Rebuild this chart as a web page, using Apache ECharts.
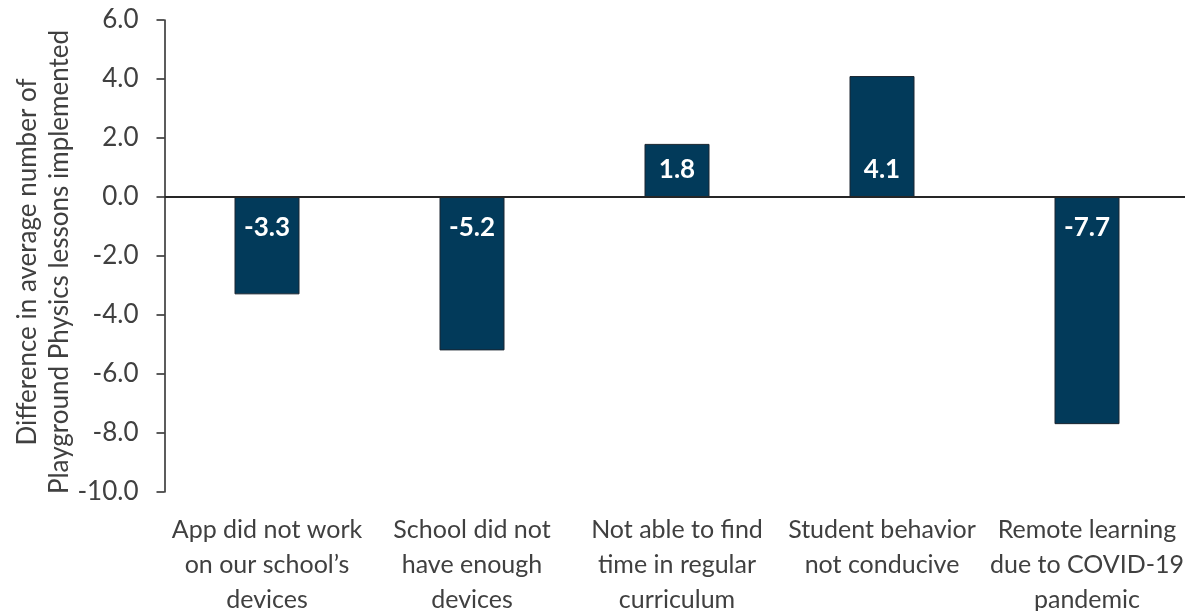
<!DOCTYPE html>
<html>
<head>
<meta charset="utf-8">
<script src="https://cdn.jsdelivr.net/npm/echarts@6/dist/echarts.min.js"></script>
<style>
  html, body { margin: 0; padding: 0; background: #ffffff; }
  #chart { width: 1185px; height: 611px; }
</style>
</head>
<body>
<div id="chart"></div>
<script>
// Reasons reported by schools, with line breaks as shown under each bar
const categories = [
  'App did not work\non our school\u2019s\ndevices',
  'School did not\nhave enough\ndevices',
  'Not able to find\ntime in regular\ncurriculum',
  'Student behavior\nnot conducive',
  'Remote learning\ndue to COVID-19\npandemic'
];
// Difference in average number of lessons implemented
const differences = [-3.3, -5.2, 1.8, 4.1, -7.7];
// Value axis range and step
const yMin = -10;
const yMax = 6;
const yStep = 2;

const FONT = 'Lato, "Open Sans", "Noto Sans", sans-serif';
const TEXT = '#404040';
const BAR = '#023a5a';

const chart = echarts.init(document.getElementById('chart'), null, { renderer: 'canvas' });

// Value labels sit just inside each bar, next to the zero line
const barData = differences.map(v => ({
  value: v,
  label: v < 0
    ? { position: 'insideTop', distance: 18 }
    : { position: 'insideBottom', distance: 14 }
}));

chart.setOption({
  animation: false,
  backgroundColor: '#ffffff',
  grid: { left: 164.5, top: 20, bottom: 119, width: 1025, containLabel: false, outerBoundsMode: 'none' },
  xAxis: {
    type: 'category',
    data: categories,
    axisLine: { show: false, onZero: false },
    axisTick: { show: false },
    axisLabel: {
      interval: 0,
      margin: 20,
      fontFamily: FONT,
      fontSize: 25,
      lineHeight: 35,
      color: TEXT
    }
  },
  yAxis: {
    type: 'value',
    min: yMin,
    max: yMax,
    interval: yStep,
    name: 'Difference in average number of\nPlayground Physics lessons implemented',
    nameLocation: 'middle',
    nameGap: 89,
    nameMoveOverlap: false,
    nameTextStyle: {
      fontFamily: FONT,
      fontSize: 26,
      lineHeight: 32,
      color: TEXT,
      padding: [0, 12, 0, 0]
    },
    axisLine: { show: true, lineStyle: { color: '#262626', width: 1.5 } },
    axisTick: { show: true, inside: false, length: 8, lineStyle: { color: '#262626', width: 1.5 } },
    splitLine: { show: false },
    axisLabel: {
      margin: 26,
      fontFamily: FONT,
      fontSize: 26,
      color: TEXT,
      formatter: v => v.toFixed(1)
    }
  },
  series: [{
    type: 'bar',
    data: barData,
    barWidth: 65,
    itemStyle: { color: BAR, borderColor: '#1b2530', borderWidth: 1 },
    label: {
      show: true,
      fontFamily: FONT,
      fontWeight: 'bold',
      fontSize: 26,
      color: '#ffffff',
      formatter: p => p.value.toFixed(1)
    },
    // Horizontal zero line across the plot
    markLine: {
      silent: true,
      symbol: 'none',
      label: { show: false },
      lineStyle: { color: '#262626', width: 2, type: 'solid' },
      data: [{ yAxis: 0 }]
    }
  }]
});
</script>
</body>
</html>
